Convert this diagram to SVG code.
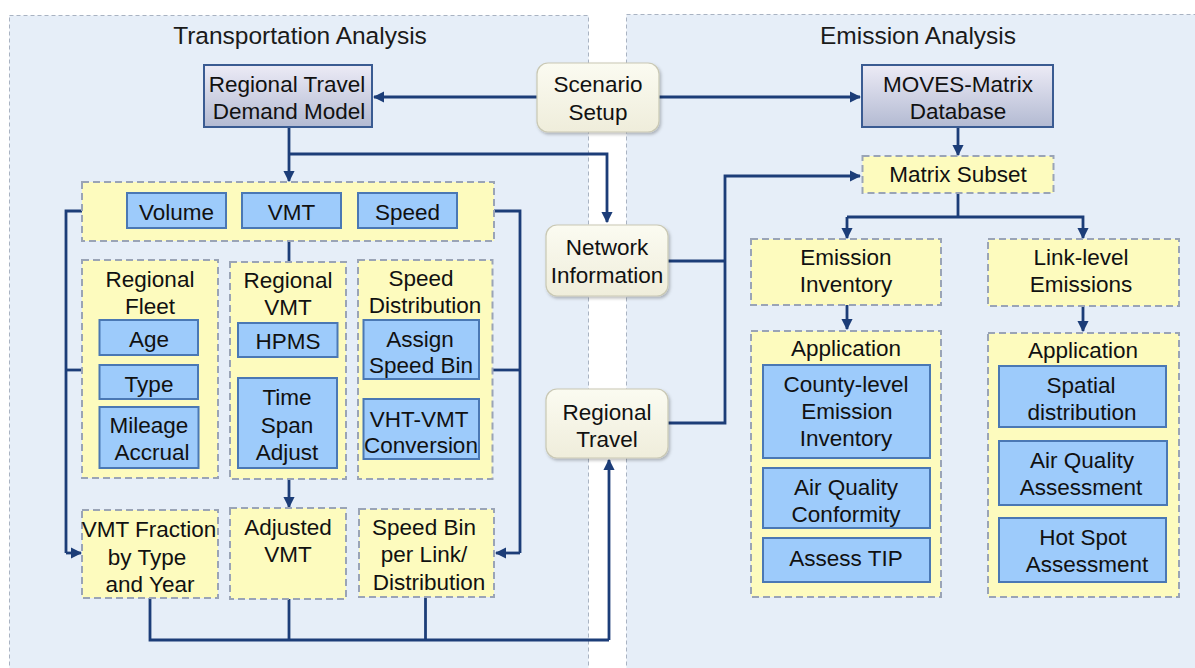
<svg xmlns="http://www.w3.org/2000/svg" width="1195" height="668" viewBox="0 0 1195 668">
<defs>
<linearGradient id="gMain" x1="0" y1="0" x2="0" y2="1">
<stop offset="0" stop-color="#ecebf6"/>
<stop offset="1" stop-color="#b3bad2"/>
</linearGradient>
<linearGradient id="gCream" x1="0" y1="0" x2="0" y2="1">
<stop offset="0" stop-color="#fbfbf1"/>
<stop offset="1" stop-color="#efeddb"/>
</linearGradient>
<filter id="sh" x="-10%" y="-10%" width="130%" height="130%">
<feDropShadow dx="1.5" dy="2" stdDeviation="1.5" flood-color="#000" flood-opacity="0.25"/>
</filter>
<marker id="ah" viewBox="0 0 10 10" refX="9" refY="5" markerWidth="4" markerHeight="4" orient="auto" markerUnits="strokeWidth">
<path d="M0,0 L10,5 L0,10 z" fill="#1c3d78"/>
</marker>
</defs>
<style>
.panel{fill:#e6eef8;stroke:#a9b3c2;stroke-width:1;stroke-dasharray:4 3}
.title{font-family:"Liberation Sans",Arial,sans-serif;font-size:24.5px;fill:#1a1a1a;text-anchor:middle}
.t{font-family:"Liberation Sans",Arial,sans-serif;font-size:22.5px;fill:#111;text-anchor:middle}
.main{fill:url(#gMain);stroke:#3a5b92;stroke-width:2}
.cream{fill:url(#gCream);stroke:#c9c8b4;stroke-width:1.2;filter:url(#sh)}
.yel{fill:#fdfbbe;stroke:#9aa4b6;stroke-width:2;stroke-dasharray:7 4}
.blue{fill:#9dcbfb;stroke:#4a78b4;stroke-width:2}
.c{fill:none;stroke:#1c3d78;stroke-width:2.8}
.ca{fill:none;stroke:#1c3d78;stroke-width:2.8;marker-end:url(#ah)}
</style>
<rect width="1195" height="668" fill="#ffffff"/>
<g id="panel-transportation">
<rect class="panel" x="9.5" y="15.5" width="579" height="670"/>
<text class="title" x="300" y="44">Transportation Analysis</text>
</g>
<g id="panel-emission">
<rect class="panel" x="626.5" y="14.5" width="590" height="670"/>
<text class="title" x="918" y="44">Emission Analysis</text>
</g>
<g id="connectors">
<path class="ca" d="M537,97 H374"/>
<path class="ca" d="M659,97 H860"/>
<path class="ca" d="M289,128 V181"/>
<path class="ca" d="M289,154 H607 V222"/>
<path class="c" d="M289,241 V262"/>
<path class="c" d="M82,211 H66 V553"/>
<path class="c" d="M66,370 H82"/>
<path class="ca" d="M66,553 H81"/>
<path class="c" d="M494,211 H520 V553"/>
<path class="c" d="M493,370 H520"/>
<path class="ca" d="M520,553 H496"/>
<path class="ca" d="M289,479 V507"/>
<path class="c" d="M150,598 V640 H609"/>
<path class="c" d="M289,599 V640"/>
<path class="c" d="M425.5,597 V640"/>
<path class="ca" d="M609,640 V460"/>
<path class="c" d="M668,261 H725"/>
<path class="ca" d="M668,423 H725 V176 H860"/>
<path class="ca" d="M958,128 V155"/>
<path class="c" d="M958,193 V217"/>
<path class="ca" d="M847,217 H1083 V238"/>
<path class="ca" d="M847,217 V238"/>
<path class="ca" d="M847,305 V329"/>
<path class="ca" d="M1083,306 V331"/>
</g>
<g id="node-rtdm">
<rect class="main" x="204" y="65" width="168" height="62"/>
<text class="t" x="287" y="92">Regional Travel</text>
<text class="t" x="289" y="119">Demand Model</text>
</g>
<g id="node-scenario">
<rect class="cream" x="537" y="63" width="122" height="69" rx="11"/>
<text class="t" x="598" y="92">Scenario</text>
<text class="t" x="598" y="120">Setup</text>
</g>
<g id="node-moves">
<rect class="main" x="862" y="65" width="191" height="62"/>
<text class="t" x="958" y="92">MOVES-Matrix</text>
<text class="t" x="958" y="119">Database</text>
</g>
<g id="node-outputs">
<rect class="yel" x="82" y="182" width="412" height="59"/>
<rect class="blue" x="127" y="193" width="99" height="35"/>
<text class="t" x="176.5" y="220">Volume</text>
<rect class="blue" x="242" y="193" width="99" height="35"/>
<text class="t" x="291.5" y="220">VMT</text>
<rect class="blue" x="358" y="193" width="99" height="35"/>
<text class="t" x="407.5" y="220">Speed</text>
</g>
<g id="node-fleet">
<rect class="yel" x="82" y="260" width="136" height="218"/>
<text class="t" x="150" y="287">Regional</text>
<text class="t" x="150" y="314">Fleet</text>
<rect class="blue" x="99.5" y="320" width="98.5" height="35"/>
<text class="t" x="149" y="347">Age</text>
<rect class="blue" x="99.5" y="365" width="98.5" height="34"/>
<text class="t" x="149" y="392">Type</text>
<rect class="blue" x="99.5" y="407" width="99" height="61"/>
<text class="t" x="149" y="433">Mileage</text>
<text class="t" x="152" y="460">Accrual</text>
</g>
<g id="node-regvmt">
<rect class="yel" x="230" y="262" width="116" height="217"/>
<text class="t" x="288" y="288">Regional</text>
<text class="t" x="288" y="315">VMT</text>
<rect class="blue" x="238" y="323" width="99.5" height="34"/>
<text class="t" x="288" y="349">HPMS</text>
<rect class="blue" x="238" y="378" width="99" height="90"/>
<text class="t" x="287" y="405">Time</text>
<text class="t" x="287" y="433">Span</text>
<text class="t" x="287" y="460">Adjust</text>
</g>
<g id="node-speeddist">
<rect class="yel" x="358" y="260" width="134.5" height="219"/>
<text class="t" x="421" y="286">Speed</text>
<text class="t" x="425" y="313">Distribution</text>
<rect class="blue" x="363.5" y="320" width="115.5" height="59"/>
<text class="t" x="420" y="347">Assign</text>
<text class="t" x="421" y="373">Speed Bin</text>
<rect class="blue" x="363.5" y="399" width="115.5" height="60"/>
<text class="t" x="419" y="427">VHT-VMT</text>
<text class="t" x="421" y="453">Conversion</text>
</g>
<g id="node-vmtfraction">
<rect class="yel" x="82" y="510" width="136" height="88"/>
<text class="t" x="149" y="537">VMT Fraction</text>
<text class="t" x="147" y="565">by Type</text>
<text class="t" x="150" y="592">and Year</text>
</g>
<g id="node-adjvmt">
<rect class="yel" x="230" y="508" width="116" height="91"/>
<text class="t" x="288" y="535">Adjusted</text>
<text class="t" x="288" y="562">VMT</text>
</g>
<g id="node-speedbin">
<rect class="yel" x="359" y="509" width="135" height="88"/>
<text class="t" x="424" y="535">Speed Bin</text>
<text class="t" x="424" y="562">per Link/</text>
<text class="t" x="429" y="590">Distribution</text>
</g>
<g id="node-network">
<rect class="cream" x="546" y="225" width="122" height="71" rx="11"/>
<text class="t" x="607" y="255">Network</text>
<text class="t" x="607" y="283">Information</text>
</g>
<g id="node-regtravel">
<rect class="cream" x="546" y="389" width="122" height="69" rx="11"/>
<text class="t" x="607" y="420">Regional</text>
<text class="t" x="607" y="447">Travel</text>
</g>
<g id="node-matrixsubset">
<rect class="yel" x="862.5" y="156" width="191" height="37"/>
<text class="t" x="958" y="182">Matrix Subset</text>
</g>
<g id="node-eminv">
<rect class="yel" x="751" y="239" width="190" height="66"/>
<text class="t" x="846" y="265">Emission</text>
<text class="t" x="846" y="292">Inventory</text>
</g>
<g id="node-linklevel">
<rect class="yel" x="988" y="239" width="191" height="67"/>
<text class="t" x="1081" y="265">Link-level</text>
<text class="t" x="1081" y="292">Emissions</text>
</g>
<g id="node-app-left">
<rect class="yel" x="751" y="331" width="190" height="266"/>
<text class="t" x="846" y="356">Application</text>
<rect class="blue" x="763" y="365" width="167" height="93"/>
<text class="t" x="846" y="392">County-level</text>
<text class="t" x="847" y="419">Emission</text>
<text class="t" x="846" y="446">Inventory</text>
<rect class="blue" x="763" y="468" width="167" height="60"/>
<text class="t" x="846" y="495">Air Quality</text>
<text class="t" x="846" y="522">Conformity</text>
<rect class="blue" x="763" y="538" width="167" height="44"/>
<text class="t" x="846" y="566">Assess TIP</text>
</g>
<g id="node-app-right">
<rect class="yel" x="988" y="333" width="191" height="264"/>
<text class="t" x="1083" y="358">Application</text>
<rect class="blue" x="999" y="366" width="167" height="61"/>
<text class="t" x="1081" y="393">Spatial</text>
<text class="t" x="1082" y="420">distribution</text>
<rect class="blue" x="999" y="441" width="168" height="64"/>
<text class="t" x="1082" y="468">Air Quality</text>
<text class="t" x="1081" y="495">Assessment</text>
<rect class="blue" x="999" y="518" width="167" height="64"/>
<text class="t" x="1083" y="545">Hot Spot</text>
<text class="t" x="1087" y="572">Assessment</text>
</g>
</svg>
